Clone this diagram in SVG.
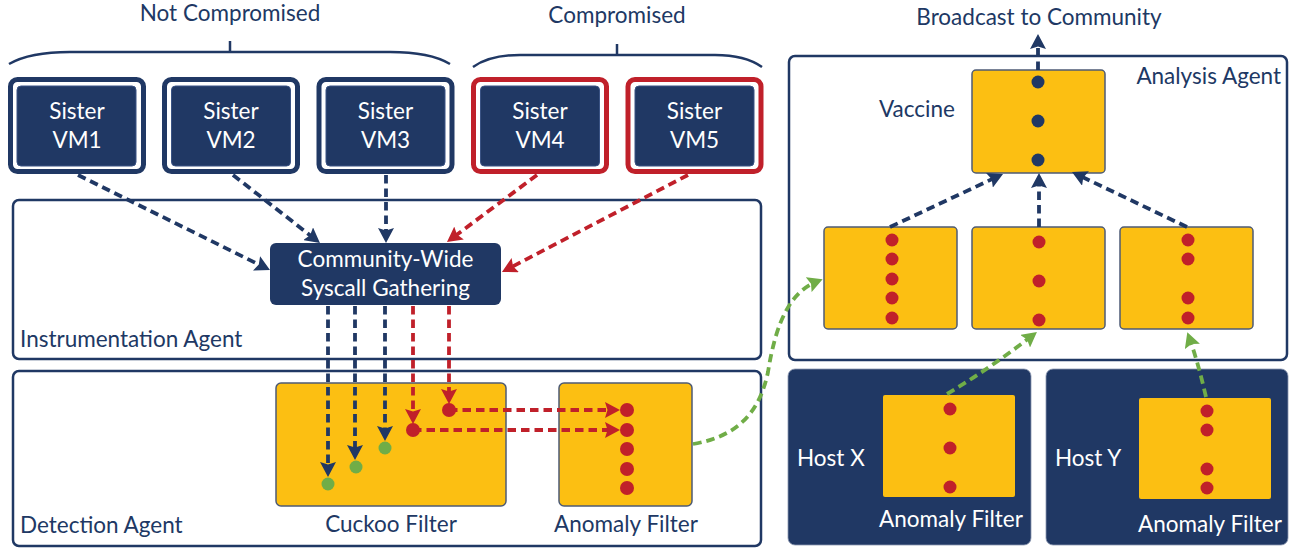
<svg xmlns="http://www.w3.org/2000/svg" width="1294" height="548" viewBox="0 0 1294 548">
  <defs>
    <style>
      text { font-family: Lato, "Open Sans", "Liberation Sans", sans-serif; font-size: 22.5px; }
      .lbl { fill: #203864; }
      .wht { fill: #ffffff; }
      .mid { text-anchor: middle; }
      .end { text-anchor: end; }
      .agent { fill: #ffffff; stroke: #203864; stroke-width: 2.5; }
      .brace { fill: none; stroke: #203864; stroke-width: 2.5; }
      .vm-in { fill: #203864; stroke: #3a5384; stroke-width: 1; }
      .ok { fill: #ffffff; stroke: #203864; stroke-width: 5; }
      .bad { fill: #ffffff; stroke: #C0202A; stroke-width: 5; }
      .hub { fill: #203864; }
      .filt { fill: #FCBF12; stroke: #4D5B75; stroke-width: 1.5; }
      .filt-h { fill: #FCBF12; }
      .host { fill: #203864; stroke: #8a97b0; stroke-width: 0.8; }
      .dr { fill: #C0202A; }
      .dg { fill: #70AD47; }
      .dn { fill: #203864; }
      .c { fill: none; stroke-width: 3.8; stroke-dasharray: 8.5 5; }
      .cn { stroke: #203864; marker-end: url(#hn); }
      .cr { stroke: #C0202A; marker-end: url(#hr); }
      .cg { stroke: #70AD47; marker-end: url(#hg); }
    </style>
    <marker id="hn" markerUnits="userSpaceOnUse" viewBox="0 0 15 16" markerWidth="15" markerHeight="16" refX="10" refY="8" orient="auto">
      <path d="M0,0 L15,8 L0,16 L2.5,8 z" fill="#203864"/>
    </marker>
    <marker id="hr" markerUnits="userSpaceOnUse" viewBox="0 0 15 16" markerWidth="15" markerHeight="16" refX="10" refY="8" orient="auto">
      <path d="M0,0 L15,8 L0,16 L2.5,8 z" fill="#C0202A"/>
    </marker>
    <marker id="hg" markerUnits="userSpaceOnUse" viewBox="0 0 15 16" markerWidth="15" markerHeight="16" refX="10" refY="8" orient="auto">
      <path d="M0,0 L15,8 L0,16 L2.5,8 z" fill="#70AD47"/>
    </marker>
  </defs>

  <rect width="1294" height="548" fill="#ffffff"/>

  <!-- group headings and braces -->
  <g id="group-labels">
    <text class="lbl mid" x="230" y="21">Not Compromised</text>
    <path class="brace" d="M9,64 Q30,52 70,52 L390,52 Q430,52 450,64 M230,41 L230,52"/>
    <text class="lbl mid" x="617" y="23">Compromised</text>
    <path class="brace" d="M473,67 Q490,55 520,55 L715,55 Q745,55 762,67 M617,44 L617,55"/>
    <text class="lbl mid" x="1039" y="25">Broadcast to Community</text>
  </g>

  <!-- agent containers -->
  <g id="instrumentation-agent">
    <rect class="agent" x="13" y="200" width="748" height="159" rx="6"/>
    <text class="lbl" x="20" y="347">Instrumentation Agent</text>
  </g>
  <g id="detection-agent">
    <rect class="agent" x="13" y="371" width="748" height="175" rx="6"/>
    <text class="lbl" x="20" y="533">Detection Agent</text>
  </g>
  <g id="analysis-agent">
    <rect class="agent" x="789" y="56" width="498" height="304" rx="6"/>
    <text class="lbl end" x="1281" y="84">Analysis Agent</text>
  </g>

  <!-- sister VMs -->
  <g id="vm1">
    <rect class="ok" x="10.5" y="79.5" width="133" height="92" rx="7"/>
    <rect class="vm-in" x="17" y="86" width="119" height="80" rx="4"/>
    <text class="wht mid" x="77" y="119">Sister</text>
    <text class="wht mid" x="77" y="148">VM1</text>
  </g>
  <g id="vm2">
    <rect class="ok" x="164.5" y="79.5" width="133" height="92" rx="7"/>
    <rect class="vm-in" x="171.5" y="86" width="119" height="80" rx="4"/>
    <text class="wht mid" x="231" y="119">Sister</text>
    <text class="wht mid" x="231" y="148">VM2</text>
  </g>
  <g id="vm3">
    <rect class="ok" x="319" y="79.5" width="133" height="92" rx="7"/>
    <rect class="vm-in" x="326" y="86" width="119" height="80" rx="4"/>
    <text class="wht mid" x="385.5" y="119">Sister</text>
    <text class="wht mid" x="385.5" y="148">VM3</text>
  </g>
  <g id="vm4">
    <rect class="bad" x="473.5" y="79.5" width="133" height="92" rx="7"/>
    <rect class="vm-in" x="480.5" y="86" width="119" height="80" rx="4"/>
    <text class="wht mid" x="540" y="119">Sister</text>
    <text class="wht mid" x="540" y="148">VM4</text>
  </g>
  <g id="vm5">
    <rect class="bad" x="628" y="79.5" width="133" height="92" rx="7"/>
    <rect class="vm-in" x="635" y="86" width="119" height="80" rx="4"/>
    <text class="wht mid" x="694.5" y="119">Sister</text>
    <text class="wht mid" x="694.5" y="148">VM5</text>
  </g>

  <!-- syscall gathering hub -->
  <g id="syscall-gathering">
    <rect class="hub" x="270" y="243" width="231" height="62" rx="6"/>
    <text class="wht mid" x="385.5" y="267">Community-Wide</text>
    <text class="wht mid" x="385.5" y="296">Syscall Gathering</text>
  </g>

  <!-- detection filters -->
  <g id="cuckoo-filter">
    <rect class="filt" x="276" y="383" width="230" height="123" rx="5"/>
    <text class="lbl mid" x="391" y="532">Cuckoo Filter</text>
  </g>
  <g id="anomaly-filter">
    <rect class="filt" x="559" y="383" width="133" height="123" rx="5"/>
    <text class="lbl mid" x="626" y="532">Anomaly Filter</text>
  </g>

  <!-- analysis filters -->
  <g id="vaccine">
    <rect class="filt" x="972" y="70" width="133" height="103" rx="4"/>
    <text class="lbl" x="879" y="117">Vaccine</text>
  </g>
  <g id="filter-a">
    <rect class="filt" x="824" y="227" width="133" height="102" rx="4"/>
  </g>
  <g id="filter-b">
    <rect class="filt" x="972" y="227" width="133" height="102" rx="4"/>
  </g>
  <g id="filter-c">
    <rect class="filt" x="1120" y="227" width="133" height="102" rx="4"/>
  </g>

  <!-- remote hosts -->
  <g id="host-x">
    <rect class="host" x="788" y="369" width="243" height="176" rx="7"/>
    <rect class="filt-h" x="883" y="395" width="132" height="102" rx="2"/>
    <text class="wht" x="797" y="466">Host X</text>
    <text class="wht mid" x="951" y="527">Anomaly Filter</text>
  </g>
  <g id="host-y">
    <rect class="host" x="1046" y="369" width="242" height="176" rx="7"/>
    <rect class="filt-h" x="1139" y="398" width="132" height="101" rx="2"/>
    <text class="wht" x="1055" y="466">Host Y</text>
    <text class="wht mid" x="1210" y="532">Anomaly Filter</text>
  </g>

  <!-- connectors -->
  <g id="connectors">
    <path class="c cn" d="M78,175 L265.5,267.8"/>
    <path class="c cn" d="M233,175 L316,239.9"/>
    <path class="c cn" d="M386,175 L386,238"/>
    <path class="c cr" d="M537,175 L451,239"/>
    <path class="c cr" d="M688,175 L506.4,269.7"/>

    <path class="c cn" d="M328,306 L328,472"/>
    <path class="c cn" d="M355,306 L355,455"/>
    <path class="c cn" d="M385,306 L385,436"/>
    <path class="c cr" d="M413,306 L413,419"/>
    <path class="c cr" d="M449,306 L449,399"/>

    <path class="c cr" d="M449,410 L615,410"/>
    <path class="c cr" d="M413,430 L615,430"/>

    <path class="c cg" d="M693,444 C740,436 760,410 768,372 C776,322 790,292 818,281"/>
    <path class="c cg" d="M947,394 Q992,367 1033,335"/>
    <path class="c cg" d="M1206,397 Q1198,362 1189,337"/>

    <path class="c cn" d="M890,227 L998.5,176.1"/>
    <path class="c cn" d="M1039,227 L1039,178"/>
    <path class="c cn" d="M1187,227 L1076.5,174.2"/>
    <path class="c cn" d="M1038,70 L1038,39"/>
  </g>

  <!-- syscall markers -->
  <g id="markers">
    <circle class="dg" cx="328" cy="484" r="6.5"/>
    <circle class="dg" cx="356" cy="467" r="6.5"/>
    <circle class="dg" cx="385" cy="448" r="6.5"/>
    <circle class="dr" cx="413" cy="430" r="7"/>
    <circle class="dr" cx="449" cy="410" r="7"/>

    <circle class="dr" cx="627" cy="410" r="7"/>
    <circle class="dr" cx="627" cy="430" r="7"/>
    <circle class="dr" cx="627" cy="449" r="7"/>
    <circle class="dr" cx="627" cy="469" r="7"/>
    <circle class="dr" cx="627" cy="488" r="7"/>

    <circle class="dn" cx="1038" cy="82" r="6.5"/>
    <circle class="dn" cx="1038" cy="121" r="6.5"/>
    <circle class="dn" cx="1038" cy="160" r="6.5"/>

    <circle class="dr" cx="892" cy="240" r="6.5"/>
    <circle class="dr" cx="892" cy="259" r="6.5"/>
    <circle class="dr" cx="892" cy="279" r="6.5"/>
    <circle class="dr" cx="892" cy="298" r="6.5"/>
    <circle class="dr" cx="892" cy="318" r="6.5"/>

    <circle class="dr" cx="1039" cy="242" r="6.5"/>
    <circle class="dr" cx="1039" cy="281" r="6.5"/>
    <circle class="dr" cx="1039" cy="320" r="6.5"/>

    <circle class="dr" cx="1188" cy="240" r="6.5"/>
    <circle class="dr" cx="1188" cy="259" r="6.5"/>
    <circle class="dr" cx="1188" cy="298" r="6.5"/>
    <circle class="dr" cx="1188" cy="318" r="6.5"/>

    <circle class="dr" cx="950" cy="409" r="6.5"/>
    <circle class="dr" cx="950" cy="448" r="6.5"/>
    <circle class="dr" cx="950" cy="487" r="6.5"/>

    <circle class="dr" cx="1207" cy="411" r="6.5"/>
    <circle class="dr" cx="1207" cy="430" r="6.5"/>
    <circle class="dr" cx="1207" cy="469" r="6.5"/>
    <circle class="dr" cx="1207" cy="488" r="6.5"/>
  </g>
</svg>
